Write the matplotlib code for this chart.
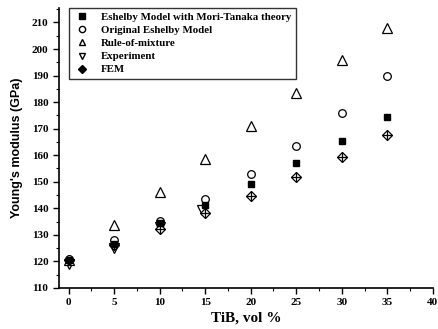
import matplotlib
matplotlib.use("Agg")
import matplotlib.pyplot as plt
from matplotlib.lines import Line2D
from matplotlib.ticker import MultipleLocator

plt.rcParams['font.family'] = ['Liberation Serif', 'DejaVu Serif']
plt.rcParams['font.weight'] = 'bold'

x_all = [0, 5, 10, 15, 20, 25, 30, 35]
mori_tanaka = [120.5, 126.5, 134.3, 141.3, 149.0, 157.0, 165.5, 174.5]
orig_eshelby = [120.8, 128.0, 135.2, 143.5, 152.8, 163.6, 175.9, 189.9]
rule_mix = [120.5, 133.7, 146.2, 158.7, 171.0, 183.3, 195.8, 208.0]
x_exp = [0, 5, 10, 14.7]
experiment = [119.0, 125.0, 133.0, 139.5]
fem = [120.5, 126.2, 132.3, 138.2, 144.7, 151.9, 159.5, 167.7]

labels = ["Eshelby Model with Mori-Tanaka theory", "Original Eshelby Model",
          "Rule-of-mixture", "Experiment", "FEM"]

fig = plt.figure(figsize=(4.39, 3.29), dpi=100)
ax = fig.add_axes([0.134, 0.125, 0.852, 0.851])

ax.plot(x_exp, experiment, linestyle='none', marker='v', ms=6.5, mfc='white', mec='black', mew=0.9, zorder=2)
ax.plot(x_all, fem, linestyle='none', marker='D', ms=5.5, mfc='white', mec='black', mew=0.9, zorder=3)
ax.plot(x_all, fem, linestyle='none', marker='+', ms=6.5, mec='black', mew=0.9, zorder=4)
ax.plot(x_all, mori_tanaka, linestyle='none', marker='s', ms=4.5, mfc='black', mec='black', zorder=5)
ax.plot(x_all, orig_eshelby, linestyle='none', marker='o', ms=5.5, mfc='white', mec='black', mew=0.9, zorder=4)
ax.plot(x_all, rule_mix, linestyle='none', marker='^', ms=6.5, mfc='white', mec='black', mew=0.9, zorder=2)

ax.set_xlim(-1.07, 40)
ax.set_ylim(110, 215.5)
ax.xaxis.set_major_locator(MultipleLocator(5))
ax.xaxis.set_minor_locator(MultipleLocator(2.5))
ax.yaxis.set_major_locator(MultipleLocator(10))
ax.yaxis.set_minor_locator(MultipleLocator(5))
ax.spines['top'].set_visible(False)
ax.spines['right'].set_visible(False)
ax.spines['left'].set_linewidth(1.2)
ax.spines['bottom'].set_linewidth(1.2)
ax.tick_params(which='major', direction='out', length=4, width=1.0, labelsize=8)
ax.tick_params(which='minor', direction='out', length=2, width=0.8)
for lab in ax.get_xticklabels() + ax.get_yticklabels():
    lab.set_fontweight('bold')

ax.set_xlabel("TiB, vol %", fontsize=11, fontweight='bold', labelpad=3)
ax.set_ylabel("Young's modulus (GPa)", fontsize=9, fontweight='bold', labelpad=6,
              family=['Liberation Sans', 'DejaVu Sans'])

handles = [
    Line2D([], [], linestyle='none', marker='s', ms=4, mfc='black', mec='black'),
    Line2D([], [], linestyle='none', marker='o', ms=4.5, mfc='white', mec='black'),
    Line2D([], [], linestyle='none', marker='^', ms=5, mfc='white', mec='black'),
    Line2D([], [], linestyle='none', marker='v', ms=5, mfc='white', mec='black'),
    Line2D([], [], linestyle='none', marker='D', ms=4, mfc='black', mec='black'),
]
leg = ax.legend(handles, labels, loc='upper left', bbox_to_anchor=(0.013, 1.02),
                frameon=True, fancybox=False, handlelength=1.5,
                handletextpad=1.0, borderpad=0.45, labelspacing=0.32,
                prop={'weight': 'bold', 'size': 7.8})
leg.get_frame().set_edgecolor('black')
leg.get_frame().set_linewidth(1.0)

fig.savefig("out.png", dpi=100)
